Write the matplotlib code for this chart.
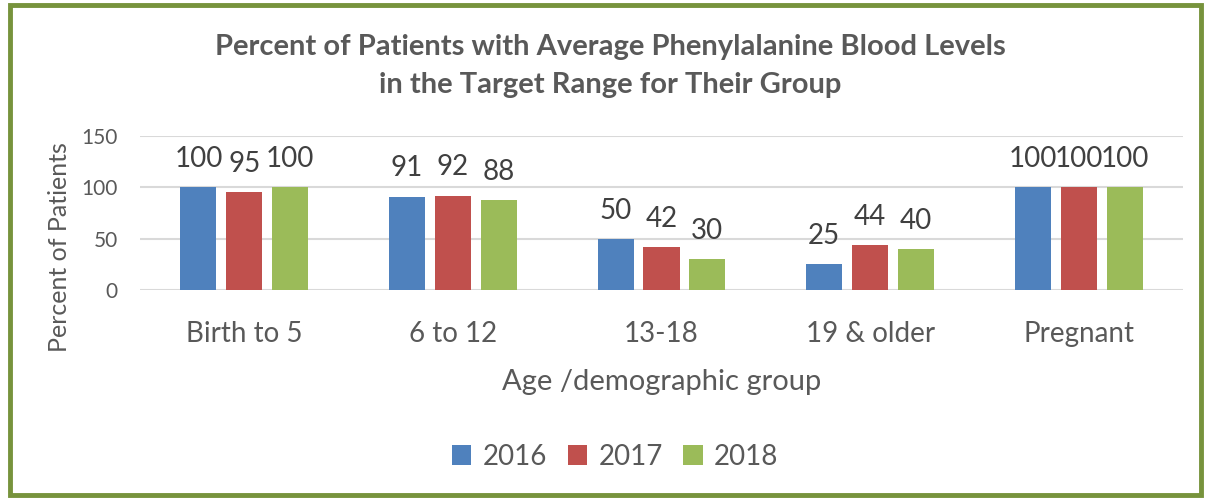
import matplotlib.pyplot as plt
import numpy as np
from matplotlib.patches import Rectangle

# data
groups = ['Birth to 5', '6 to 12', '13-18', '19 & older', 'Pregnant']
years = ['2016', '2017', '2018']
pct_2016 = [100, 91, 50, 25, 100]
pct_2017 = [95, 92, 42, 44, 100]
pct_2018 = [100, 88, 30, 40, 100]

colors = ['#4F81BD', '#C0504D', '#9BBB59']
text_gray = '#595959'
label_gray = '#404040'

plt.rcParams['font.family'] = ['Lato', 'DejaVu Sans']

fig = plt.figure(figsize=(12.11, 4.99), dpi=100)
ax = fig.add_axes([0.1156, 0.4188, 0.8613, 0.3087])

x = np.arange(len(groups))
step = 0.22
width = 0.173
series = [pct_2016, pct_2017, pct_2018]
for i, vals in enumerate(series):
    pos = x + (i - 1) * step
    ax.bar(pos, vals, width, color=colors[i], label=years[i], zorder=3)
    for px, v in zip(pos, vals):
        ax.annotate(str(v), (px, v), xytext=(0, 14.5), textcoords='offset points',
                    ha='center', va='baseline', fontsize=20, color=label_gray)

ax.set_xlim(-0.5, 4.5)
ax.set_ylim(0, 150)
ax.set_yticks([0, 50, 100, 150])
ax.set_xticks(x)
ax.set_xticklabels(groups, fontsize=20, color=text_gray)
ax.tick_params(axis='x', length=0, pad=22)
ax.tick_params(axis='y', length=0, pad=16, labelsize=15, labelcolor=text_gray)
ax.grid(axis='y', color='#D9D9D9', linewidth=1.5, zorder=0)
for s in ax.spines.values():
    s.set_visible(False)

ax.set_ylabel('Percent of Patients', fontsize=18, color=text_gray)
ax.yaxis.set_label_coords(-0.066, 0.28)
ax.set_xlabel('Age /demographic group', fontsize=21, color=text_gray)
ax.xaxis.set_label_coords(0.5, -0.515)

fig.text(0.504, 0.905, 'Percent of Patients with Average Phenylalanine Blood Levels',
         ha='center', va='center', fontsize=21, fontweight='bold', color=text_gray)
fig.text(0.504, 0.83, 'in the Target Range for Their Group',
         ha='center', va='center', fontsize=21, fontweight='bold', color=text_gray)

ax.legend(loc='center', ncol=3, frameon=False, fontsize=20, handlelength=0.7,
          handleheight=0.7, handletextpad=0.4, columnspacing=0.75, labelcolor=text_gray)
ax.get_legend().set_bbox_to_anchor((0.508, 0.085), transform=fig.transFigure)

fig.patches.append(Rectangle((0.0083, 0.008), 0.9835, 0.982, transform=fig.transFigure,
                             fill=False, edgecolor='#77933C', linewidth=3.5))

fig.savefig('out.png', dpi=100)
